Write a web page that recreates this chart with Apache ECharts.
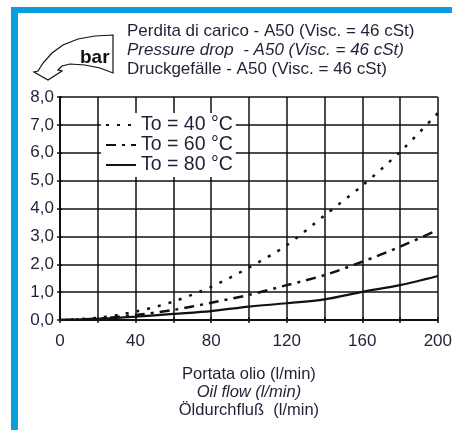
<!DOCTYPE html>
<html><head><meta charset="utf-8">
<script src="https://cdn.jsdelivr.net/npm/echarts@6/dist/echarts.min.js"></script>
<style>html,body{margin:0;padding:0;background:#fff}#c{width:455px;height:430px}</style>
</head><body><div id="c"></div>
<script>
var flow = [0, 20, 40, 60, 80, 100, 120, 140, 160, 180, 200];
var t40 = [0, 0.08, 0.30, 0.66, 1.19, 1.88, 2.68, 3.75, 4.82, 6.03, 7.42];
var t60 = [0, 0.05, 0.18, 0.36, 0.62, 0.90, 1.25, 1.61, 2.09, 2.63, 3.23];
var t80 = [0, 0.04, 0.12, 0.22, 0.32, 0.48, 0.60, 0.74, 1.01, 1.25, 1.58];
var seriesNames = ['To = 40 °C', 'To = 60 °C', 'To = 80 °C'];
var titleLines = ['Perdita di carico - A50 (Visc. = 46 cSt)', 'Pressure drop  - A50 (Visc. = 46 cSt)', 'Druckgefälle - A50 (Visc. = 46 cSt)'];
var xNameLines = ['Portata olio (l/min)', 'Oil flow (l/min)', 'Öldurchfluß  (l/min)'];
var unitLabel = 'bar';

var FONT = '"Liberation Sans", Arial, sans-serif';
var TXT = '#231f36';
function pairs(arr){ return flow.map(function(x,i){ return [x, arr[i]]; }); }

var chart = echarts.init(document.getElementById('c'), null, {renderer:'canvas'});
var lineCol = '#111';
chart.setOption({
  animation: false,
  backgroundColor: '#fff',
  textStyle: {fontFamily: FONT},
  title: {
    left: 122, top: 17,
    text: '{a|' + titleLines[0] + '}\n{b|' + titleLines[1] + '}\n{a|' + titleLines[2] + '}',
    textStyle: {
      fontWeight: 'normal',
      rich: {
        a: {fontFamily: FONT, fontSize: 17, fontWeight: 'normal', color: TXT, lineHeight: 19},
        b: {fontFamily: FONT, fontSize: 17, fontWeight: 'normal', fontStyle: 'italic', color: TXT, lineHeight: 19}
      }
    }
  },
  legend: {
    orient: 'vertical', left: 101, top: 113,
    itemWidth: 30, itemHeight: 12, itemGap: 0,
    backgroundColor: '#fff', padding: [2, 3, 2, 4],
    itemStyle: {opacity: 0},
    textStyle: {fontFamily: FONT, fontSize: 19.5, color: TXT, padding: [0,0,0,0], lineHeight: 19},
    data: seriesNames
  },
  grid: {left: 60, right: 14, top: 97, bottom: 110},
  xAxis: [{
    type: 'value', min: 0, max: 200, interval: 20,
    name: '{a|' + xNameLines[0] + '}\n{b|' + xNameLines[1] + '}\n{a|' + xNameLines[2] + '}',
    nameLocation: 'middle', nameGap: 45,
    nameTextStyle: {
      rich: {
        a: {fontFamily: FONT, fontSize: 16.5, color: TXT, lineHeight: 18},
        b: {fontFamily: FONT, fontSize: 16.5, fontStyle: 'italic', color: TXT, lineHeight: 18}
      }
    },
    axisLine: {show: true, lineStyle: {color: '#111', width: 2}},
    axisTick: {show: true, inside: false, length: 3, lineStyle: {color: '#111', width: 1.5}},
    splitLine: {show: true, lineStyle: {color: '#111', width: 1.5}},
    axisLabel: {
      fontFamily: FONT, fontSize: 17, color: TXT, margin: 13,
      formatter: function(v){ return v % 40 === 0 ? String(v) : ''; }
    }
  }, {
    type: 'value', position: 'top', min: 0, max: 200, interval: 20,
    axisLine: {show: true, lineStyle: {color: '#111', width: 1.5}},
    axisTick: {show: true, length: 3, lineStyle: {color: '#111', width: 1.5}},
    splitLine: {show: false}, axisLabel: {show: false}
  }],
  yAxis: [{
    type: 'value', min: 0, max: 8, interval: 1,
    axisLine: {show: true, lineStyle: {color: '#111', width: 2}},
    axisTick: {show: true, length: 3, lineStyle: {color: '#111', width: 1.5}},
    splitLine: {show: true, lineStyle: {color: '#111', width: 1.5}},
    axisLabel: {
      fontFamily: FONT, fontSize: 17, color: TXT, margin: 6,
      formatter: function(v){ return v.toFixed(1).replace('.', ','); }
    }
  }, {
    type: 'value', position: 'right', min: 0, max: 8, interval: 1,
    axisLine: {show: true, lineStyle: {color: '#111', width: 1.5}},
    axisTick: {show: true, length: 2, lineStyle: {color: '#111', width: 1.5}},
    splitLine: {show: false}, axisLabel: {show: false}
  }],
  series: [
    {name: seriesNames[0], type: 'line', data: pairs(t40), smooth: 0.3, symbol: 'none',
     lineStyle: {color: lineCol, width: 2.5, type: [3, 8]}, itemStyle: {color: lineCol}},
    {name: seriesNames[1], type: 'line', data: pairs(t60), smooth: 0.3, symbol: 'none',
     lineStyle: {color: lineCol, width: 2.5, type: [10, 6, 3, 6]}, itemStyle: {color: lineCol}},
    {name: seriesNames[2], type: 'line', data: pairs(t80), smooth: 0.3, symbol: 'none',
     lineStyle: {color: lineCol, width: 2.2, type: 'solid'}, itemStyle: {color: lineCol}}
  ],
  graphic: [
    {type: 'rect', shape: {x: 11, y: 7, width: 7, height: 423}, style: {fill: '#0a9fdc'}, z: 100},
    {type: 'rect', shape: {x: 11, y: 7, width: 441, height: 6}, style: {fill: '#0a9fdc'}, z: 100},
    {type: 'polygon', shape: {points: [[113,35],[95,36],[78,39],[63,45],[52,53],[43,63],[38,71],[34,72],[48,80],[62,71],[58,70],[62,66],[70,64],[85,65],[100,68],[113,73]]},
     style: {fill: '#fff', stroke: '#111', lineWidth: 1.2}, z: 100},
    {type: 'text', x: 80, y: 48, style: {text: unitLabel, font: 'bold 19px ' + FONT, fill: '#111'}, z: 101}
  ]
});
</script></body></html>
